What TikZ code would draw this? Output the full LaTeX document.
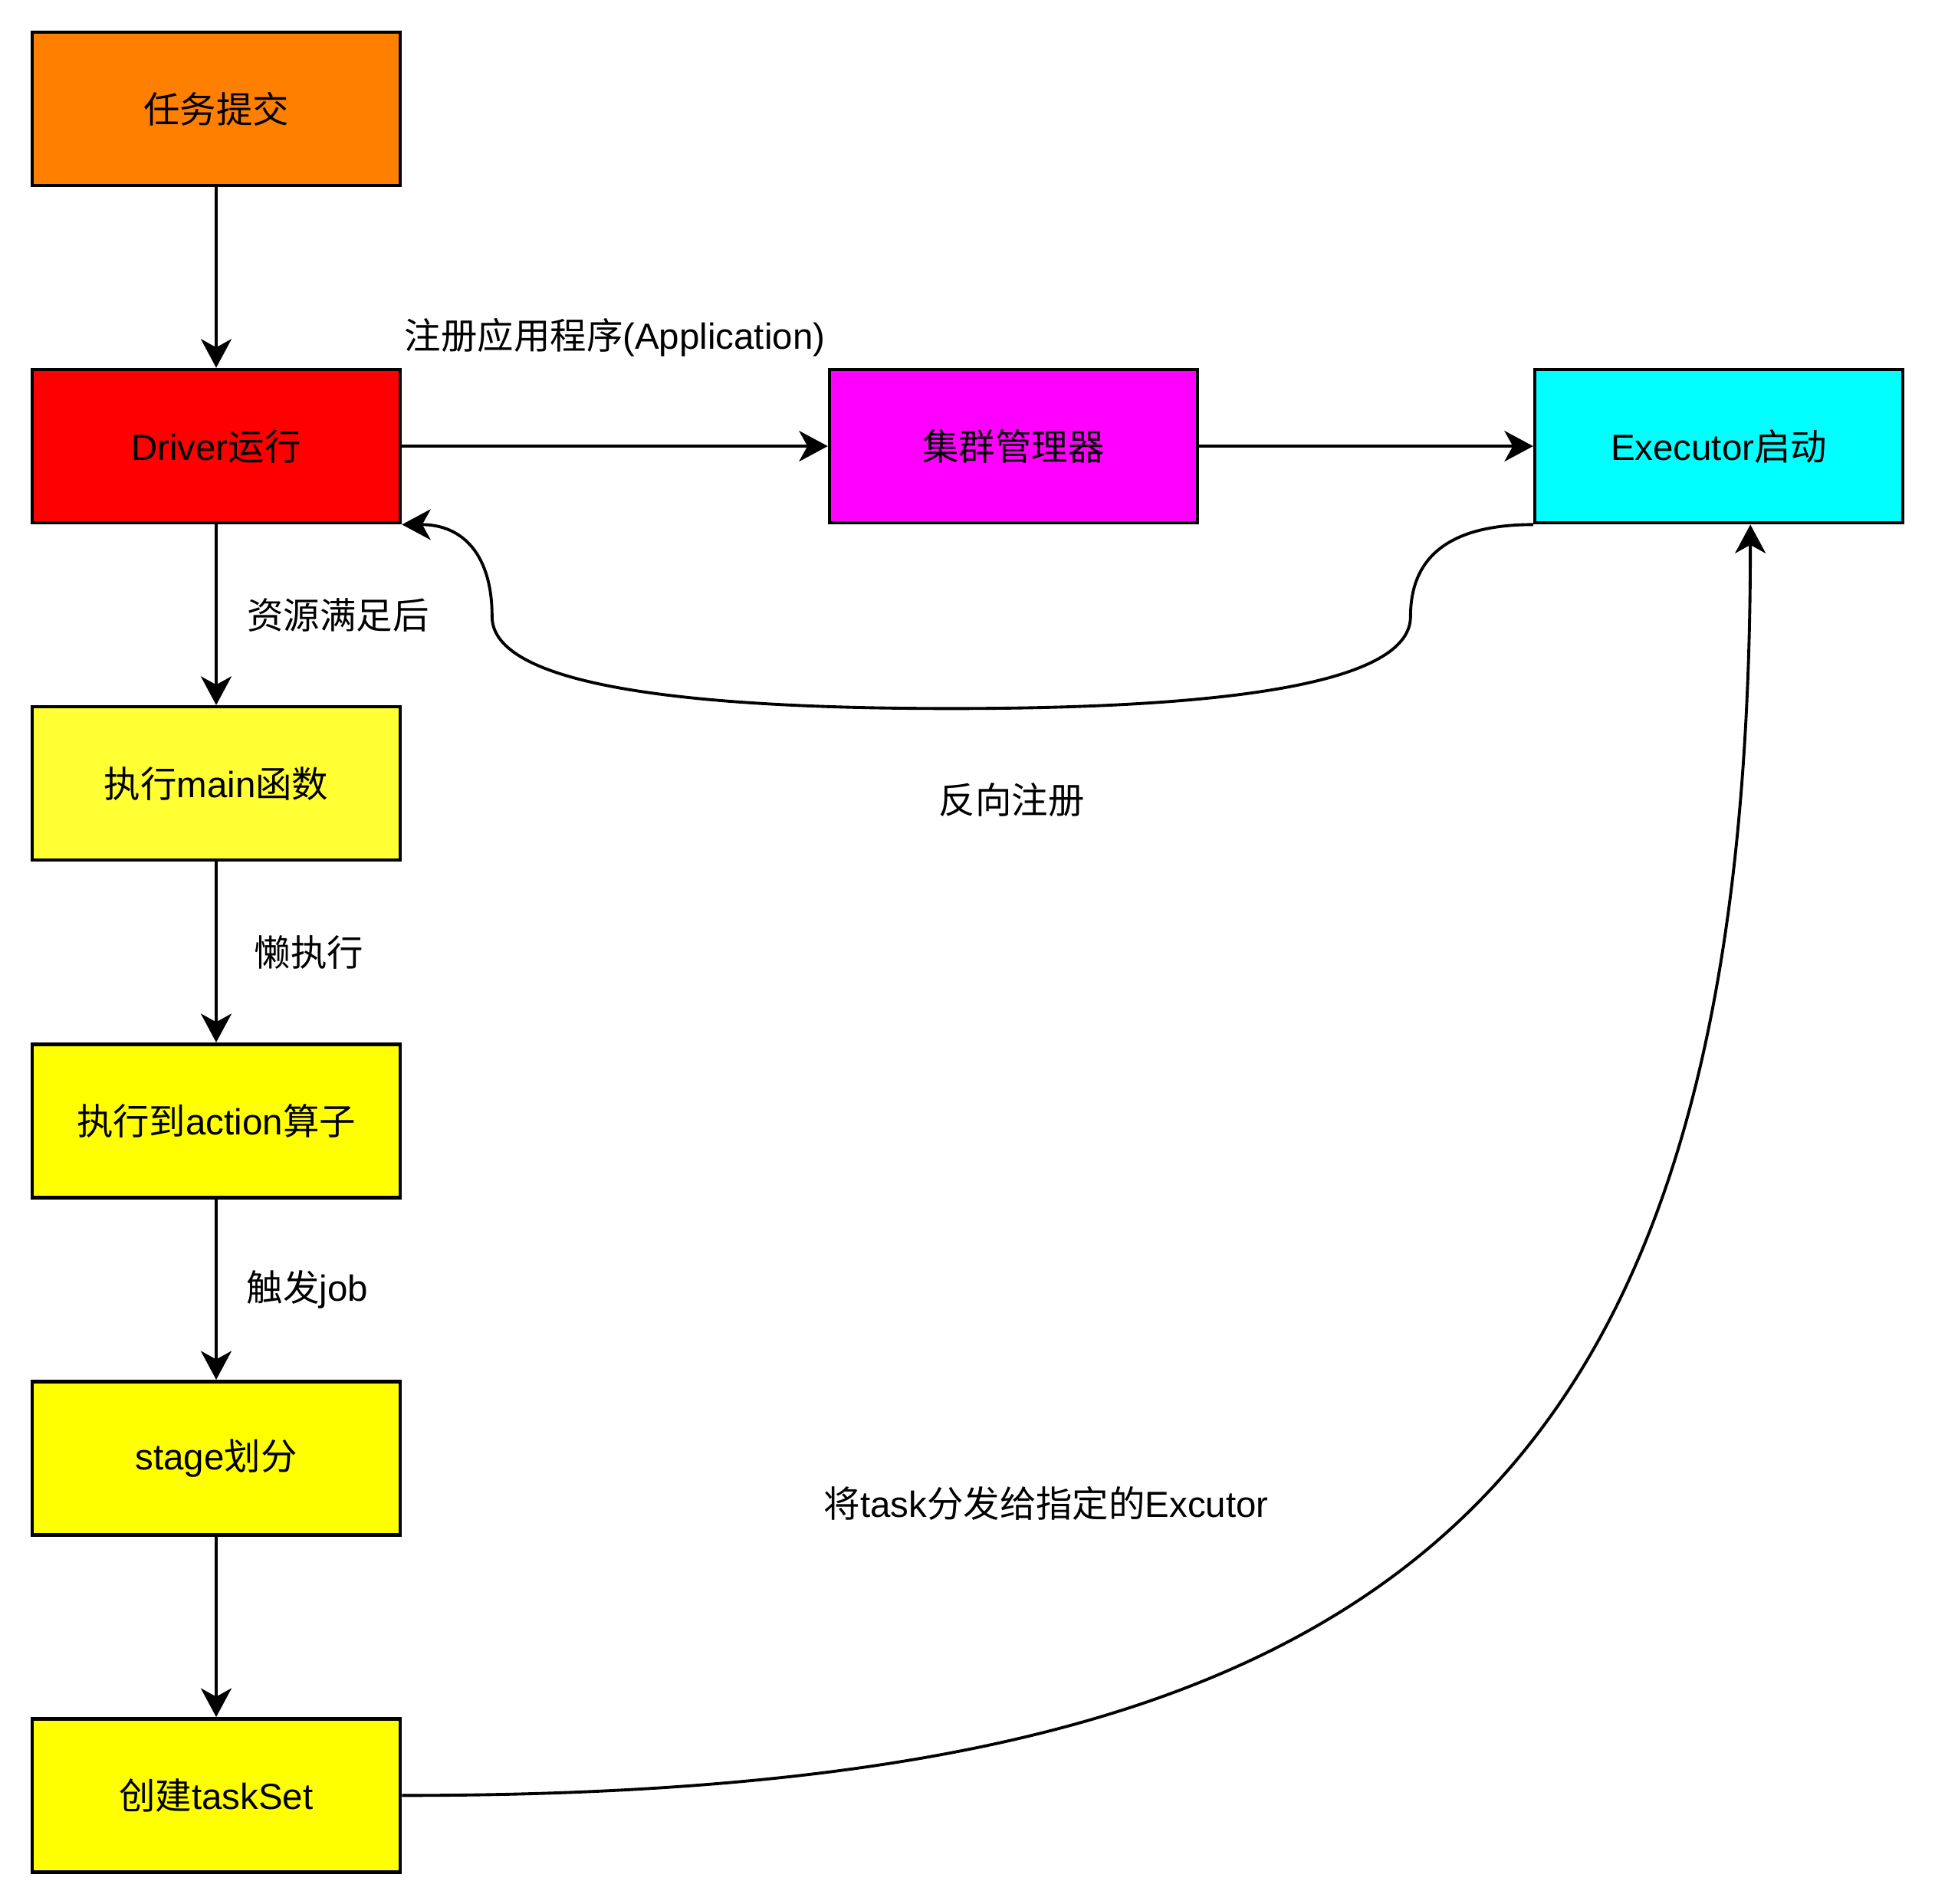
\documentclass[tikz,border=0pt]{standalone}
\usepackage{fontspec}
\setmainfont{Liberation Sans}
\newfontfamily\cjk{Noto Sans CJK SC}
\usetikzlibrary{arrows.meta, positioning}

\definecolor{submitorange}{HTML}{FF8000}
\definecolor{driverred}{HTML}{FF0000}
\definecolor{clustermagenta}{HTML}{FF00FF}
\definecolor{executorcyan}{HTML}{00FFFF}
\definecolor{mainyellow}{HTML}{FFFF33}
\definecolor{stepyellow}{HTML}{FFFF00}

\begin{document}
\begin{tikzpicture}[
  block/.style={rectangle, draw, line width=2.6pt, minimum width=9.6cm, minimum height=4cm, font=\fontsize{27}{32}\selectfont},
  lbl/.style={font=\fontsize{27}{32}\selectfont},
  edge/.style={-{Stealth[length=7.5mm, width=8mm, inset=2.2mm]}, line width=2.2pt},
  node distance=4.71cm and 11.11cm
]
\useasboundingbox (0,0) rectangle (50.48,-49.68);

\node[block, fill=submitorange] (submit) at (5.64,-2.84) {{\cjk 任务提交}};
\node[block, fill=driverred, below=of submit] (driver) {Driver{\cjk 运行}};
\node[block, fill=clustermagenta, right=of driver] (cluster) {{\cjk 集群管理器}};
\node[block, fill=executorcyan, right=8.71cm of cluster] (executor) {Executor{\cjk 启动}};
\node[block, fill=mainyellow, below=of driver] (mainfn) {{\cjk 执行}main{\cjk 函数}};
\node[block, fill=stepyellow, below=of mainfn] (action) {{\cjk 执行到}action{\cjk 算子}};
\node[block, fill=stepyellow, below=of action] (stage) {stage{\cjk 划分}};
\node[block, fill=stepyellow, below=of stage] (taskset) {{\cjk 创建}taskSet};

\draw[edge] (submit) -- (driver);
\draw[edge] (driver) -- node[lbl, yshift=2.84cm] {{\cjk 注册应用程序}(Application)} (cluster);
\draw[edge] (cluster) -- (executor);
\draw[edge] (driver) -- node[lbl, xshift=3.18cm] {{\cjk 资源满足后}} (mainfn);
\draw[edge] (mainfn) -- node[lbl, xshift=2.42cm] {{\cjk 懒执行}} (action);
\draw[edge] (action) -- node[lbl, xshift=2.38cm] {{\cjk 触发}job} (stage);
\draw[edge] (stage) -- (taskset);

% executor registers back with the driver
\draw[edge] (executor.south west) .. controls +(-2.13,0) and +(0,1.6) .. ++(-3.2,-2.4)
  .. controls +(0,-1.6) and +(7.99,0) .. ++(-11.98,-2.4) node[lbl, xshift=1.58cm, yshift=-2.38cm] {{\cjk 反向注册}}
  .. controls +(-7.99,0) and +(0,-1.6) .. ++(-11.98,2.4)
  .. controls +(0,1.6) and +(1.6,0) .. (driver.south east);

% tasks sent out to the executor
\draw[edge] (taskset.east) .. controls +(25.76,0) and +(0,-25.76) .. ([xshift=0.82cm]executor.south)
  node[lbl, pos=0.5, xshift=-10.44cm, yshift=0.7cm] {{\cjk 将}task{\cjk 分发给指定的}Excutor};
\end{tikzpicture}
\end{document}
